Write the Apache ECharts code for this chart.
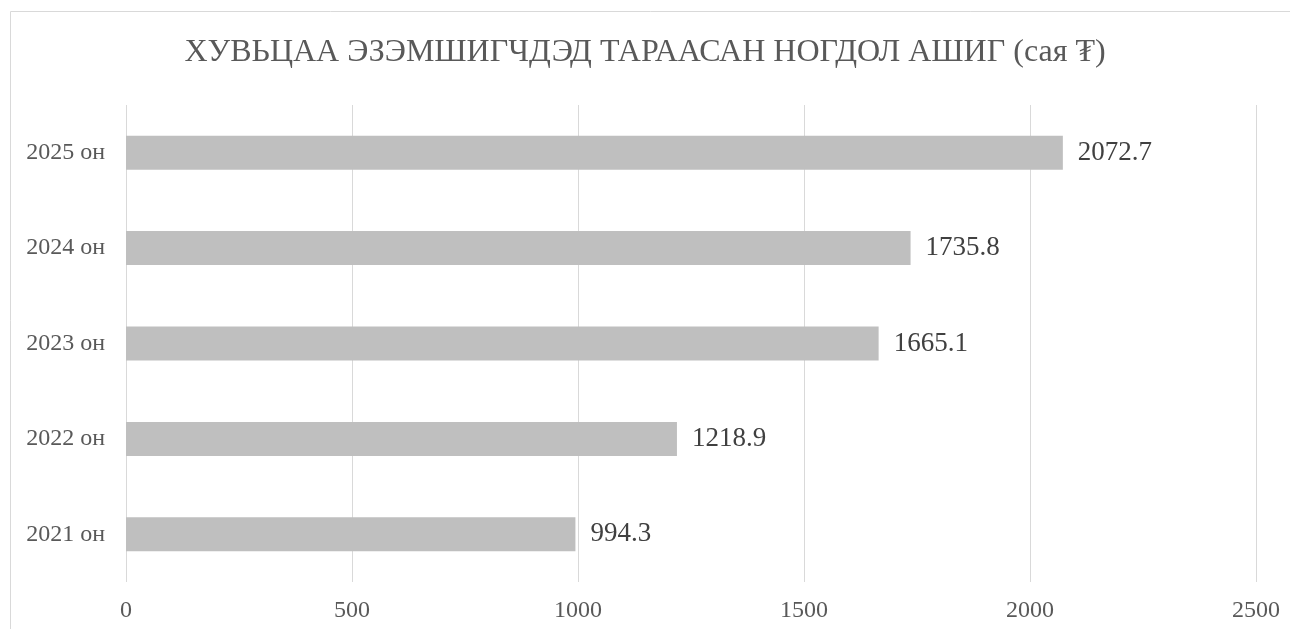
<!DOCTYPE html>
<html>
<head>
<meta charset="utf-8">
<script src="https://cdn.jsdelivr.net/npm/echarts@6/dist/echarts.min.js"></script>
<style>
  html, body { margin: 0; padding: 0; background: #fff; }
  #main { width: 1290px; height: 629px; }
</style>
</head>
<body>
<div id="main"></div>
<script>
// data
const years = ['2021 он', '2022 он', '2023 он', '2024 он', '2025 он']
const dividends = [994.3, 1218.9, 1665.1, 1735.8, 2072.7]
const titleText = 'ХУВЬЦАА ЭЗЭМШИГЧДЭД ТАРААСАН НОГДОЛ АШИГ (сая ₮)'

const serif = '"Liberation Serif", "DejaVu Serif", serif'
const chart = echarts.init(document.getElementById('main'))

chart.setOption({
  animation: false,
  title: {
    text: titleText,
    left: 'center',
    top: 32,
    textStyle: {
      fontFamily: serif,
      fontSize: 32,
      fontWeight: 'normal',
      color: '#595959'
    }
  },
  graphic: [{
    type: 'rect',
    shape: { x: 10.5, y: 11.5, width: 1300, height: 640 },
    style: { fill: 'none', stroke: '#d9d9d9', lineWidth: 1 },
    silent: true
  }],
  grid: {
    left: 126,
    right: 34,
    top: 105,
    bottom: 47
  },
  xAxis: {
    type: 'value',
    min: 0,
    max: 2500,
    interval: 500,
    axisLine: { show: false },
    axisTick: { show: false },
    splitLine: { lineStyle: { color: '#d9d9d9', width: 1 } },
    axisLabel: {
      margin: 17,
      fontFamily: serif,
      fontSize: 24,
      color: '#595959',
      formatter: v => String(v)
    }
  },
  yAxis: {
    type: 'category',
    data: years,
    axisLine: { show: false },
    axisTick: { show: false },
    axisLabel: {
      margin: 21,
      fontFamily: serif,
      fontSize: 24,
      color: '#595959'
    }
  },
  series: [{
    type: 'bar',
    data: dividends,
    barWidth: 34,
    itemStyle: { color: '#bfbfbf' },
    label: {
      show: true,
      position: 'right',
      distance: 15,
      fontFamily: serif,
      fontSize: 27,
      color: '#404040'
    }
  }]
})
</script>
</body>
</html>
